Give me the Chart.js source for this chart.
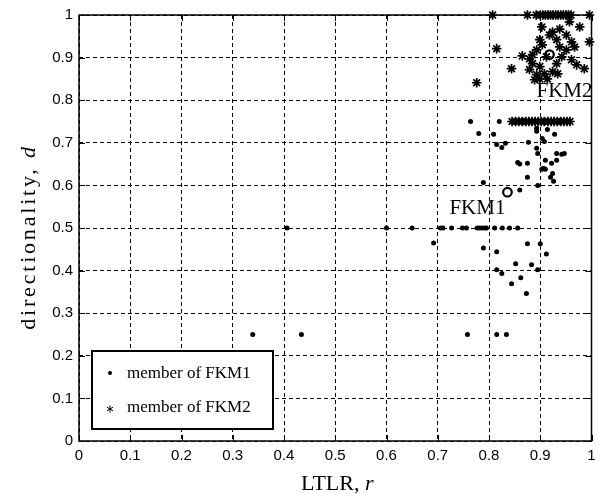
<!DOCTYPE html>
<html>
<head>
<meta charset="utf-8">
<script src="https://cdn.jsdelivr.net/npm/chart.js@4.4.0/dist/chart.umd.min.js"></script>
<style>
  html, body { margin: 0; padding: 0; background: #fff; }
  #wrap { width: 598px; height: 494px; }
</style>
</head>
<body>
<div id="wrap"><canvas id="myChart" width="598" height="494"></canvas></div>
<script>
// ticks on both axes
const xTicks = [0, 0.1, 0.2, 0.3, 0.4, 0.5, 0.6, 0.7, 0.8, 0.9, 1];
const yTicks = [0, 0.1, 0.2, 0.3, 0.4, 0.5, 0.6, 0.7, 0.8, 0.9, 1];

// members of FKM1 (dots)
const fkm1X = [
  0.339, 0.434, 0.758, 0.815, 0.834,
  0.406, 0.600, 0.650, 0.705, 0.710, 0.727, 0.748, 0.756, 0.777, 0.782, 0.787, 0.792, 0.795, 0.811, 0.826, 0.840, 0.856,
  0.764, 0.820, 0.845, 0.852, 0.862, 0.890, 0.900, 0.935, 0.950,
  0.692, 0.789, 0.815, 0.875, 0.900, 0.912, 0.852, 0.883, 0.815, 0.825, 0.862, 0.844, 0.873, 0.895,
  0.789, 0.860, 0.875, 0.920, 0.926, 0.924, 0.903, 0.906, 0.910, 0.895,
  0.856, 0.860, 0.875, 0.910, 0.922, 0.932, 0.893, 0.895, 0.932, 0.942, 0.947,
  0.780, 0.809, 0.815, 0.825, 0.832, 0.877, 0.893, 0.893, 0.904, 0.908, 0.914, 0.928
];
const fkm1Y = [
  0.25, 0.25, 0.25, 0.25, 0.25,
  0.5, 0.5, 0.5, 0.5, 0.5, 0.5, 0.5, 0.5, 0.5, 0.5, 0.5, 0.5, 0.5, 0.5, 0.5, 0.5, 0.5,
  0.75, 0.75, 0.75, 0.75, 0.75, 0.75, 0.75, 0.75, 0.75,
  0.465, 0.453, 0.444, 0.463, 0.463, 0.439, 0.416, 0.414, 0.402, 0.393, 0.383, 0.369, 0.346, 0.402,
  0.607, 0.589, 0.619, 0.619, 0.610, 0.628, 0.638, 0.640, 0.638, 0.600,
  0.654, 0.650, 0.652, 0.659, 0.652, 0.659, 0.687, 0.675, 0.675, 0.673, 0.675,
  0.722, 0.720, 0.696, 0.689, 0.699, 0.701, 0.734, 0.727, 0.710, 0.703, 0.731, 0.720
];

// members of FKM2 (stars)
const fkm2X = [
  0.807, 0.875, 0.892, 0.900, 0.905, 0.910, 0.915, 0.920, 0.925, 0.930, 0.935, 0.940, 0.945, 0.950, 0.955, 0.960, 0.996,
  0.845, 0.852, 0.858, 0.865, 0.872, 0.878, 0.884, 0.890, 0.896, 0.902, 0.908, 0.915, 0.921, 0.927, 0.933, 0.940, 0.946, 0.952, 0.958,
  0.815, 0.865, 0.844, 0.776, 0.903, 0.938, 0.957, 0.977, 0.918, 0.899, 0.951, 0.961, 0.967, 0.996, 0.893, 0.904, 0.942, 0.951, 0.961,
  0.971, 0.986, 0.885, 0.899, 0.908, 0.893, 0.924, 0.934, 0.879, 0.899, 0.914, 0.885, 0.879, 0.932, 0.938, 0.912, 0.932, 0.924, 0.889
];
const fkm2Y = [
  1, 1, 1, 1, 1, 1, 1, 1, 1, 1, 1, 1, 1, 1, 1, 1, 1,
  0.75, 0.75, 0.75, 0.75, 0.75, 0.75, 0.75, 0.75, 0.75, 0.75, 0.75, 0.75, 0.75, 0.75, 0.75, 0.75, 0.75, 0.75, 0.75,
  0.921, 0.904, 0.874, 0.841, 0.972, 0.967, 0.984, 0.972, 0.953, 0.942, 0.953, 0.937, 0.925, 0.937, 0.918, 0.930, 0.902, 0.918, 0.895,
  0.883, 0.874, 0.886, 0.879, 0.862, 0.860, 0.867, 0.862, 0.872, 0.850, 0.850, 0.907, 0.897, 0.886, 0.925, 0.902, 0.942, 0.960, 0.848
];

// cluster centres
const centreNames = ["FKM1", "FKM2"];
const centreX = [0.836, 0.918];
const centreY = [0.584, 0.907];

const legendLabels = ["member of FKM1", "member of FKM2"];

function toPoints(xs, ys) {
  return xs.map((x, i) => ({ x: x, y: ys[i] }));
}

function mixedText(ctx, parts, x, y) {
  // parts: [text, font] ; drawn centred on x
  let total = 0;
  parts.forEach(p => { ctx.font = p[1]; total += ctx.measureText(p[0]).width; });
  let cx = x - total / 2;
  parts.forEach(p => {
    ctx.font = p[1];
    ctx.fillText(p[0], cx, y);
    cx += ctx.measureText(p[0]).width;
  });
}

function drawStar(ctx, x, y, r) {
  ctx.beginPath();
  ctx.moveTo(x, y - r); ctx.lineTo(x, y + r);
  for (let k = 0; k < 2; k++) {
    const a = Math.PI / 6 + k * Math.PI * 2 / 3;
    ctx.moveTo(x - r * Math.cos(a), y - r * Math.sin(a));
    ctx.lineTo(x + r * Math.cos(a), y + r * Math.sin(a));
  }
  ctx.stroke();
}

const extras = {
  id: "extras",
  afterDatasetsDraw(chart) {
    const ctx = chart.ctx;
    const a = chart.chartArea;
    const xs = chart.scales.x, ys = chart.scales.y;
    ctx.save();
    ctx.fillStyle = "#000";
    ctx.strokeStyle = "#000";

    // legend box
    const lx = a.left + 13, lt = a.bottom - 90, lw = 181, lh = 78;
    ctx.fillStyle = "#fff";
    ctx.fillRect(lx, lt, lw, lh);
    ctx.lineWidth = 2;
    ctx.strokeRect(lx, lt, lw, lh);
    ctx.fillStyle = "#000";
    ctx.beginPath();
    ctx.arc(lx + 18, lt + 22, 2, 0, Math.PI * 2);
    ctx.fill();
    ctx.lineWidth = 1;
    drawStar(ctx, lx + 18, lt + 58, 3.5);
    ctx.font = "17px 'Liberation Serif'";
    ctx.textBaseline = "middle";
    ctx.textAlign = "left";
    ctx.fillText(legendLabels[0], lx + 35, lt + 23);
    ctx.fillText(legendLabels[1], lx + 35, lt + 57);

    // frame
    ctx.lineWidth = 1.5;
    ctx.strokeRect(a.left, a.top, a.right - a.left, a.bottom - a.top);

    // inner tick marks
    ctx.lineWidth = 1;
    ctx.beginPath();
    xTicks.forEach(v => {
      const px = Math.round(xs.getPixelForValue(v)) + 0.5;
      ctx.moveTo(px, a.bottom); ctx.lineTo(px, a.bottom - 6);
      ctx.moveTo(px, a.top); ctx.lineTo(px, a.top + 6);
    });
    yTicks.forEach(v => {
      const py = Math.round(ys.getPixelForValue(v)) + 0.5;
      ctx.moveTo(a.left, py); ctx.lineTo(a.left + 6, py);
      ctx.moveTo(a.right, py); ctx.lineTo(a.right - 6, py);
    });
    ctx.stroke();

    // centre labels
    ctx.font = "21px 'Liberation Serif'";
    ctx.textBaseline = "alphabetic";
    const c1x = xs.getPixelForValue(centreX[0]), c1y = ys.getPixelForValue(centreY[0]);
    const c2x = xs.getPixelForValue(centreX[1]), c2y = ys.getPixelForValue(centreY[1]);
    ctx.textAlign = "right";
    ctx.fillText(centreNames[0], c1x - 2, c1y + 22);
    ctx.textAlign = "left";
    ctx.fillText(centreNames[1], c2x - 13, c2y + 42);

    // axis titles
    ctx.textAlign = "left";
    mixedText(ctx, [["LTLR, ", "22px 'Liberation Serif'"], ["r", "italic 22px 'Liberation Serif'"]],
      (a.left + a.right) / 2 + 2, 490);
    ctx.save();
    ctx.translate(35, 237);
    ctx.rotate(-Math.PI / 2);
    if ("letterSpacing" in ctx) ctx.letterSpacing = "2.8px";
    mixedText(ctx, [["directionality, ", "22px 'Liberation Serif'"], ["d", "italic 22px 'Liberation Serif'"]], 0, 0);
    ctx.restore();

    ctx.restore();
  }
};

const tickLabel = v => String(v);

const ctx = document.getElementById("myChart").getContext("2d");
new Chart(ctx, {
  type: "scatter",
  data: {
    datasets: [
      {
        label: legendLabels[0],
        data: toPoints(fkm1X, fkm1Y),
        pointStyle: "circle",
        pointRadius: 2.5,
        backgroundColor: "#000",
        borderColor: "#000",
        borderWidth: 0,
        clip: false
      },
      {
        label: legendLabels[1],
        data: toPoints(fkm2X, fkm2Y),
        pointStyle: "star",
        pointRadius: 4.8,
        backgroundColor: "#000",
        borderColor: "#000",
        borderWidth: 1.7,
        clip: false
      },
      {
        label: "centres",
        data: toPoints(centreX, centreY),
        pointStyle: "circle",
        pointRadius: 4.3,
        backgroundColor: "#fff",
        borderColor: "#000",
        borderWidth: 2.2,
        clip: false
      }
    ]
  },
  options: {
    responsive: false,
    animation: false,
    layout: { padding: { left: 0, top: 12, right: 6, bottom: 0 } },
    plugins: { legend: { display: false }, tooltip: { enabled: false } },
    scales: {
      x: {
        type: "linear",
        min: 0,
        max: 1,
        afterBuildTicks: s => { s.ticks = xTicks.map(v => ({ value: v })); },
        afterFit: s => { s.height = 53; s.paddingRight = 0; },
        grid: { color: "#000", lineWidth: 1, drawTicks: false },
        border: { display: false, dash: [4, 3] },
        ticks: { color: "#000", padding: 6, font: { family: "'Liberation Sans'", size: 15 }, maxRotation: 0, callback: tickLabel }
      },
      y: {
        type: "linear",
        min: 0,
        max: 1,
        afterBuildTicks: s => { s.ticks = yTicks.map(v => ({ value: v })); },
        afterFit: s => { s.width = 79; },
        grid: { color: "#000", lineWidth: 1, drawTicks: false },
        border: { display: false, dash: [4, 3] },
        ticks: { color: "#000", padding: 6, font: { family: "'Liberation Sans'", size: 15 }, callback: tickLabel }
      }
    }
  },
  plugins: [extras]
});
</script>
</body>
</html>
